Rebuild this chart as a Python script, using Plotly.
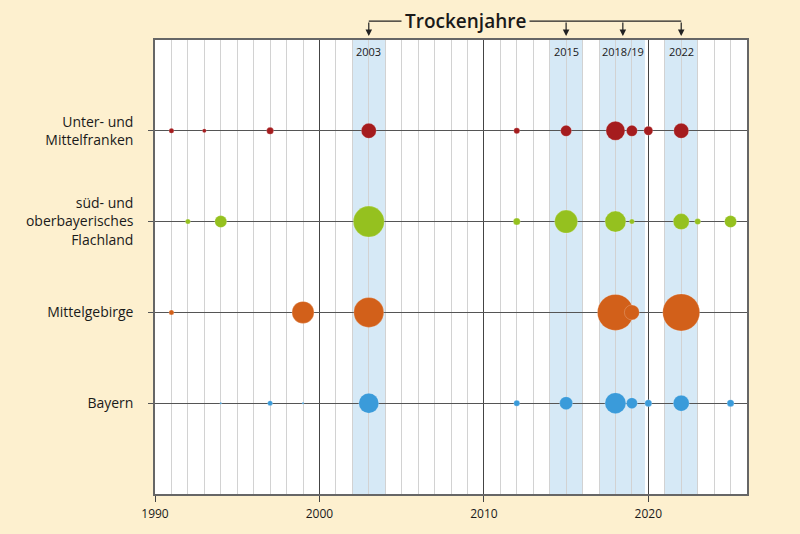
import plotly.graph_objects as go

# ---- data ----
regions = ["Bayern", "Mittelgebirge", "süd- und<br>oberbayerisches<br>Flachland", "Unter- und<br>Mittelfranken"]
colors = ["#3A9BDA", "#D2601A", "#95C11F", "#A51C1E"]

franken_years = [1991, 1993, 1997, 2003, 2012, 2015, 2018, 2019, 2020, 2022]
franken_vals = [5, 4, 7, 15, 6, 11, 19, 11, 9, 15]

flachland_years = [1992, 1994, 2003, 2012, 2015, 2018, 2019, 2022, 2023, 2025]
flachland_vals = [5, 12, 31, 7, 23, 21, 5, 16, 6, 12]

mittelgebirge_years = [1991, 1999, 2003, 2018, 2019, 2022]
mittelgebirge_vals = [5, 22, 30, 36, 15, 37]

bayern_years = [1994, 1997, 1999, 2003, 2012, 2015, 2018, 2019, 2020, 2022, 2025]
bayern_vals = [2, 5, 2, 20, 6, 13, 21, 11, 7, 16, 7]

drought_bands = [(2002, 2004), (2014, 2016), (2017, 2019.8), (2021, 2023)]
drought_labels = ["2003", "2015", "2018/19", "2022"]
drought_label_x = [2003, 2015, 2018.45, 2022]
arrow_x = [2003, 2015, 2018.45, 2022]

x_ticks = [1990, 2000, 2010, 2020]

series = [
    (bayern_years, bayern_vals),
    (mittelgebirge_years, mittelgebirge_vals),
    (flachland_years, flachland_vals),
    (franken_years, franken_vals),
]

FONT = "Open Sans"
TOP, BOT = 40, 35
H = 534 - TOP - BOT
PB = 534 - BOT  # pixel y of plot bottom


def py(pix):
    return (PB - pix) / H


fig = go.Figure()

for i, (yrs, vals) in enumerate(series):
    fig.add_trace(go.Scatter(
        x=yrs, y=[i + 1] * len(yrs), mode="markers",
        marker=dict(size=vals, sizemode="diameter", color=colors[i],
                    line=dict(width=0.6, color="rgba(255,255,255,0.35)"), opacity=1),
        showlegend=False, hoverinfo="x",
    ))

shapes = []
for (a, b) in drought_bands:
    shapes.append(dict(type="rect", xref="x", yref="paper", x0=a, x1=b, y0=0, y1=1,
                       fillcolor="#D6E9F6", line=dict(width=0), layer="below"))

ybr = py(21)
shapes.append(dict(type="line", xref="x", yref="paper", x0=arrow_x[0], x1=arrow_x[-1],
                   y0=ybr, y1=ybr, line=dict(color="#222", width=1.2)))

annotations = []
for x in arrow_x:
    annotations.append(dict(x=x, y=py(36), xref="x", yref="paper", text="", showarrow=True,
                            ax=0, ay=-15, axref="pixel", ayref="pixel",
                            arrowhead=2, arrowsize=1.1, arrowwidth=1.2, arrowcolor="#222"))
annotations.append(dict(x=2008.87, y=ybr, xref="x", yref="paper", text="Trockenjahre",
                        showarrow=False, font=dict(family=FONT, size=19, color="#1a1a1a", weight=600),
                        bgcolor="#FDF0CF", borderpad=3, xanchor="center", yanchor="middle"))
for lbl, x in zip(drought_labels, drought_label_x):
    annotations.append(dict(x=x, y=py(52), xref="x", yref="paper", text=lbl, showarrow=False,
                            font=dict(family=FONT, size=11, color="#1a1a1a"),
                            xanchor="center", yanchor="middle"))

fig.update_layout(
    width=800, height=534,
    margin=dict(l=155, r=53, t=TOP, b=BOT),
    paper_bgcolor="#FDF0CF", plot_bgcolor="white",
    shapes=shapes, annotations=annotations,
    font=dict(family=FONT, color="#1a1a1a"),
    xaxis=dict(range=[1990, 2026], tickvals=x_ticks, ticktext=[str(v) for v in x_ticks],
               showgrid=True, gridcolor="#444", gridwidth=1,
               minor=dict(dtick=1, tick0=1990, showgrid=True, gridcolor="#d2d2d2", gridwidth=1),
               ticks="outside", ticklen=6, tickcolor="#444",
               showline=True, linecolor="#666", linewidth=1.5, mirror=True,
               zeroline=False, ticklabelstandoff=2,
               tickfont=dict(family=FONT, size=12, color="#1a1a1a")),
    yaxis=dict(range=[0, 5], tickvals=[1, 2, 3, 4], ticktext=regions,
               showgrid=True, gridcolor="#555", gridwidth=1.2,
               ticks="outside", ticklen=5, tickcolor="#555",
               showline=True, linecolor="#666", linewidth=1.5, mirror=True,
               zeroline=False, ticklabelstandoff=12,
               tickfont=dict(family=FONT, size=14, color="#1a1a1a")),
)

fig.write_html("out.html")
